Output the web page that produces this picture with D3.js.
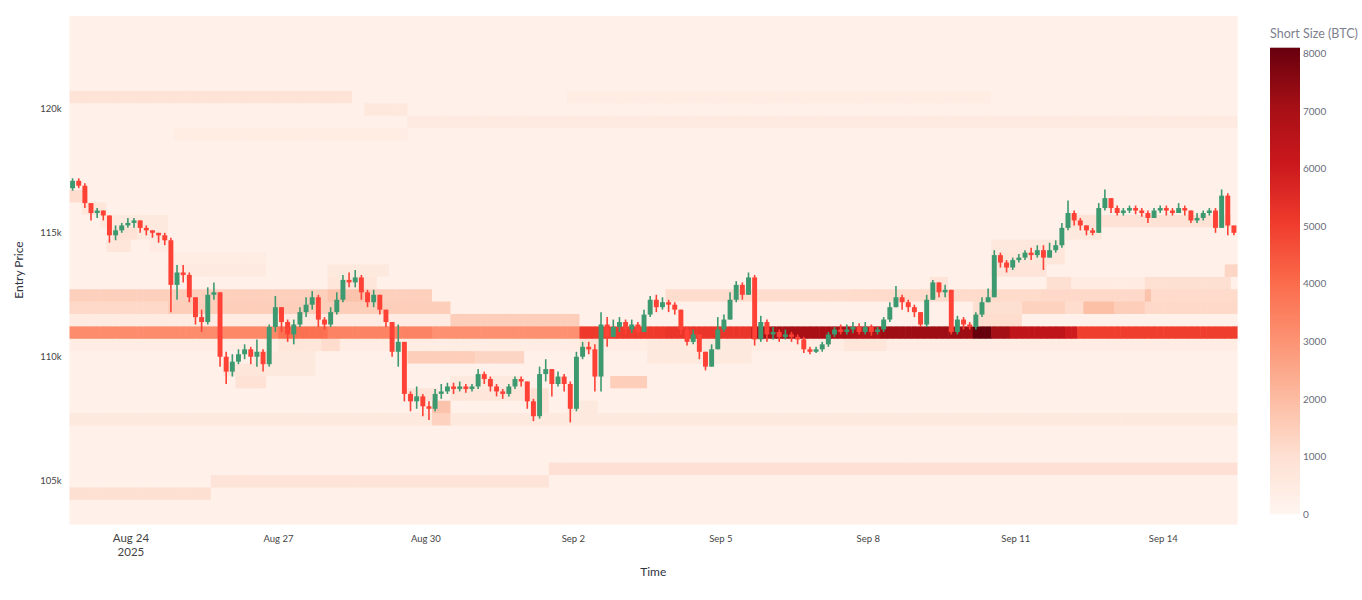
<!DOCTYPE html>
<html><head><meta charset="utf-8">
<script src="https://cdn.jsdelivr.net/npm/d3@7"></script>
<style>body{margin:0;background:#fff;} svg{display:block;font-family:Lato,"Noto Sans",sans-serif;}</style>
</head><body><svg id="chart" width="1362" height="600"></svg>
<script>
// ---------- DATA ----------
const gridStart = "2025-08-22T18:00:00Z";   // first 3-hour bar
const gridHours = 3;
const gridCount = 190;
const firstOpen = 116.8;                      // price in k USD
const closes = [117.1,116.9,116.2,115.8,115.9,115.7,114.9,115.1,115.3,115.4,
115.5,115.2,115.1,115.0,114.9,114.7,112.9,113.4,113.3,112.4,
111.6,111.4,112.5,112.6,110.0,109.4,109.8,110.1,110.3,110.0,
110.2,109.7,111.2,112.0,111.4,110.9,111.3,111.8,112.1,112.4,
111.5,111.3,111.8,112.3,113.1,113.0,113.2,112.6,112.2,112.5,
111.9,111.4,110.2,110.6,108.5,108.2,108.4,108.0,107.9,108.5,
108.6,108.8,108.7,108.8,108.7,108.8,109.3,109.1,108.8,108.6,
108.5,108.8,109.1,109.0,108.2,107.6,109.3,109.5,108.9,109.2,
108.9,107.9,110.0,110.4,110.3,109.2,111.3,110.8,111.2,111.4,
111.1,111.3,111.0,111.7,112.3,112.0,112.2,112.1,111.9,111.1,
110.6,110.9,110.2,109.6,110.3,111.1,111.5,112.3,112.9,112.5,
113.2,110.7,111.4,110.9,111.0,110.8,110.9,110.8,110.7,110.3,
110.2,110.3,110.5,110.9,111.1,111.0,111.1,111.2,111.0,111.2,
111.0,111.1,111.5,112.0,112.4,112.2,112.0,111.8,111.3,112.3,
113.0,112.6,112.7,111.0,111.5,111.3,111.2,111.7,112.2,112.4,
114.1,113.8,113.6,113.9,114.0,114.2,114.1,114.3,114.0,114.3,
114.5,115.2,115.8,115.5,115.3,115.1,115.0,116.0,116.4,116.0,
115.8,115.9,116.0,115.9,115.8,115.6,115.9,116.0,115.9,115.8,
116.0,115.9,115.5,115.6,115.8,115.9,115.2,116.5,115.3,115.0];
const highs = [117.2,117.2,117.0,116.1,116.0,115.9,115.7,115.3,115.4,115.6,
115.6,115.5,115.3,115.1,115.0,115.0,114.8,113.7,113.7,113.4,
112.4,111.9,112.8,113.0,112.6,110.2,110.1,110.3,110.5,110.4,
110.7,110.3,111.3,112.45,112.0,111.5,111.5,112.0,112.4,112.65,
112.5,111.6,112.0,112.6,113.3,113.4,113.5,113.3,112.7,112.7,
112.5,111.9,111.4,111.3,110.6,108.6,108.8,108.5,108.2,108.7,
108.9,108.95,108.95,109.0,108.9,108.9,109.5,109.4,109.2,108.9,
108.7,108.9,109.2,109.2,109.0,108.3,109.6,109.9,109.5,109.4,
109.3,109.0,110.2,110.6,110.6,110.5,111.8,111.6,111.5,111.6,
111.5,111.5,111.4,111.9,112.45,112.5,112.4,112.3,112.2,111.9,
111.2,111.1,110.9,110.2,110.5,111.6,111.7,112.6,113.05,113.0,
113.4,113.3,111.65,111.5,111.2,111.1,111.1,111.0,110.9,110.8,
110.4,110.4,110.6,111.0,111.2,111.3,111.3,111.4,111.35,111.4,
111.3,111.2,111.6,112.2,112.85,112.5,112.3,112.1,111.8,112.5,
113.1,113.0,112.9,112.7,111.65,111.6,111.4,111.8,112.4,112.75,
114.3,114.2,113.9,114.0,114.15,114.3,114.4,114.5,114.5,114.6,
114.7,115.4,116.3,115.9,115.6,115.3,115.2,116.2,116.75,116.4,
116.1,116.0,116.1,116.1,116.0,115.9,116.0,116.1,116.1,116.0,
116.2,116.1,115.9,115.8,115.9,116.0,116.0,116.75,116.6,115.2];
const lows = [116.7,116.8,116.0,115.5,115.6,115.5,114.6,114.7,115.0,115.2,
115.2,115.0,114.9,114.8,114.6,114.5,111.8,112.3,113.0,112.2,
111.3,111.0,111.3,112.3,109.6,108.9,109.2,109.7,109.9,109.7,
109.6,109.4,109.6,111.0,111.0,110.6,110.5,111.2,111.6,111.9,
111.2,111.1,111.2,111.7,112.2,112.8,112.8,112.3,112.0,112.0,
111.7,111.2,110.0,109.6,108.2,107.8,107.9,107.6,107.45,107.8,
108.3,108.5,108.5,108.6,108.55,108.6,108.7,108.9,108.6,108.4,
108.3,108.4,108.7,108.8,107.9,107.4,107.5,109.0,108.4,108.8,
108.6,107.35,107.8,109.9,110.1,108.6,108.6,110.4,110.8,111.0,
110.9,110.95,110.9,111.0,111.6,111.8,111.9,111.8,111.7,110.9,
110.45,110.5,109.9,109.45,109.6,110.3,111.0,111.5,112.2,112.3,
112.5,110.45,110.6,110.6,110.7,110.6,110.7,110.6,110.5,110.15,
110.1,110.15,110.2,110.4,110.8,110.9,110.9,110.95,110.9,110.9,
110.85,110.9,111.0,111.4,112.0,111.9,111.8,111.6,111.2,111.2,
112.3,112.4,112.4,110.9,110.9,111.1,111.1,111.1,111.6,112.2,
112.4,113.6,113.4,113.5,113.8,113.9,113.9,114.0,113.5,114.0,
114.2,114.4,115.1,115.3,115.1,114.9,114.9,115.0,115.9,115.8,
115.7,115.7,115.8,115.75,115.65,115.4,115.6,115.8,115.7,115.7,
115.8,115.7,115.4,115.4,115.5,115.7,115.0,115.2,114.9,114.9];

// heatmap: price levels (k USD, bin centres) and short size (BTC)
const priceLevels = [103.5,104,104.5,105,105.5,106,106.5,107,107.5,108,108.5,109,109.5,110,110.5,
111,111.5,112,112.5,113,113.5,114,114.5,115,115.5,116,116.5,117,117.5,118,118.5,119,119.5,120,120.5,
121,121.5,122,122.5,123,123.5];
const baseShort = 250;
// [price, [[fromBar, toBar, shortSize], ...]]
const heatRuns = [
 [120.5, [[0,46,850],[81,150,450]]],
 [120.0, [[48,55,650]]],
 [119.5, [[55,190,550]]],
 [119.0, [[17,55,450]]],
 [116.5, [[0,3,1100]]],
 [116.0, [[2,6,700]]],
 [115.5, [[5,16,600],[162,189,900]]],
 [115.0, [[7,11,900],[11,16,600],[162,168,600]]],
 [114.5, [[6,10,700],[13,16,500],[150,162,650]]],
 [114.0, [[16,32,450],[150,162,700]]],
 [113.5, [[16,32,550],[42,52,600],[150,159,800],[188,190,1300]]],
 [113.0, [[42,50,700],[140,143,800],[159,163,1000],[163,175,500],[175,189,1000]]],
 [112.5, [[0,42,1450],[42,48,1800],[48,59,1450],[97,127,1100],[127,158,1150],[158,175,1200],[175,176,1800],[176,190,1150]]],
 [112.0, [[0,16,1200],[16,62,1500],[147,155,1000],[155,162,1400],[162,165,1100],[165,170,1900],[170,175,1500],[175,190,1200]]],
 [111.5, [[0,62,500],[62,83,1500],[147,155,1100]]],
 [111.0, [[0,24,3200],[24,34,3300],[34,42,3900],[42,59,3400],[59,83,3100],[83,97,5100],[97,111,5200],[111,127,7000],[127,132,6800],[132,147,7200],[147,150,8100],[150,153,7100],[153,162,6400],[162,164,6000],[164,190,5000]]],
 [110.5, [[0,190,400],[34,44,700],[41,44,1100],[83,86,900],[94,111,600],[126,133,700]]],
 [110.0, [[30,40,600],[55,66,1500],[66,74,1300],[94,111,600]]],
 [109.5, [[25,32,700],[32,40,600]]],
 [109.0, [[27,32,900],[62,74,600],[88,94,1500]]],
 [108.5, [[55,60,800],[62,74,700],[75,78,1000]]],
 [108.0, [[59,62,1800],[75,78,800],[81,86,600]]],
 [107.5, [[0,190,600],[59,62,1400]]],
 [105.5, [[78,190,950]]],
 [105.0, [[23,78,800]]],
 [104.5, [[0,23,1000]]]
];
const xTickDates = ["2025-08-24","2025-08-27","2025-08-30","2025-09-02","2025-09-05","2025-09-08","2025-09-11","2025-09-14"];
const yTickValues = [105,110,115,120];
const colorTicks = [0,1000,2000,3000,4000,5000,6000,7000,8000];
const redsColors = ["rgb(255,245,240)","rgb(254,224,210)","rgb(252,187,161)","rgb(252,146,114)","rgb(251,106,74)","rgb(239,59,44)","rgb(203,24,29)","rgb(165,15,21)","rgb(103,0,13)"];

// ---------- BUILD ----------
const svg = d3.select("#chart");
const M = {left:69.5, right:1237, top:16, bottom:524};
const t0 = new Date(gridStart);
const step = gridHours*3600e3;
const times = d3.range(gridCount).map(i => new Date(+t0 + i*step));
const opens = closes.map((c,i) => i===0 ? firstOpen : closes[i-1]);   // continuous market: open = previous close

const x = d3.scaleUtc().domain([t0, new Date(+t0 + gridCount*step)]).range([M.left, M.right]);
const halfBin = 0.25;
const y = d3.scaleLinear().domain([d3.min(priceLevels)-halfBin, d3.max(priceLevels)+halfBin]).range([M.bottom, M.top]);

// matrix
const matrix = priceLevels.map(p => {
  const row = new Array(gridCount).fill(baseShort);
  const r = heatRuns.find(h => h[0]===p);
  if (r) r[1].forEach(([a,b,v]) => { for (let i=a;i<b;i++) row[i]=v; });
  return row;
});
const zMax = d3.max(matrix, r => d3.max(r));
const color = d3.scaleLinear().domain(redsColors.map((c,i)=>i/(redsColors.length-1)*zMax)).range(redsColors).clamp(true);

const heat = svg.append("g");
priceLevels.forEach((p,ri) => {
  matrix[ri].forEach((v,ci) => {
    const xa = x(times[ci]), xb = x(new Date(+times[ci]+step));
    heat.append("rect")
      .attr("x", xa).attr("width", xb-xa+0.6)
      .attr("y", y(p+halfBin)).attr("height", y(p-halfBin)-y(p+halfBin)+0.6)
      .attr("fill", color(v));
  });
});

// candles
const up = "#3D9970", down = "#FF4136";
const cg = svg.append("g");
const bw = (x(new Date(+t0+step)) - x(t0))*0.8;
closes.forEach((c,i) => {
  const o = opens[i];
  const cx = x(new Date(+times[i] + step/2));
  const col = c >= o ? up : down;
  cg.append("line").attr("x1",cx).attr("x2",cx).attr("y1",y(highs[i])).attr("y2",y(lows[i]))
    .attr("stroke",col).attr("stroke-width",1.6);
  const yt = y(Math.max(o,c)), yb = y(Math.min(o,c));
  cg.append("rect").attr("x",cx-bw/2).attr("width",bw).attr("y",yt).attr("height",Math.max(1.5,yb-yt))
    .attr("fill",col);
});

// axes
const fmtDay = d3.utcFormat("%b %-d");
xTickDates.forEach((d,i) => {
  const xx = x(new Date(d+"T00:00:00Z"));
  svg.append("text").attr("x",xx).attr("text-anchor","middle").attr("fill","#444")
    .style("font-size", i===0 ? "11.5px" : "9.5px").attr("y", 542).text(fmtDay(new Date(d+"T00:00:00Z")));
  if (i===0) svg.append("text").attr("x",xx).attr("y",556).attr("text-anchor","middle").attr("fill","#444").style("font-size","11.5px").text("2025");
});
const yg = svg.append("g").attr("transform",`translate(${M.left},0)`)
  .call(d3.axisLeft(y).tickValues(yTickValues).tickSize(0).tickPadding(8).tickFormat(d=>d+"k"));
yg.select(".domain").remove();
yg.selectAll("text").attr("fill","#444").style("font-size","9.5px").style("font-family","Lato,'Noto Sans',sans-serif");

svg.append("text").attr("x",(M.left+M.right)/2).attr("y",576).attr("text-anchor","middle")
  .attr("fill","#31333F").style("font-size","12px").text("Time");
svg.append("text").attr("transform",`translate(23,${(M.top+M.bottom)/2}) rotate(-90)`).attr("text-anchor","middle")
  .attr("fill","#31333F").style("font-size","12px").text("Entry Price");

// colorbar
const cb = d3.scaleLinear().domain([0,zMax]).range([514.3, 47.7]);
const defs = svg.append("defs");
const grad = defs.append("linearGradient").attr("id","cbgrad").attr("x1",0).attr("x2",0).attr("y1",1).attr("y2",0);
redsColors.forEach((c,i)=>grad.append("stop").attr("offset",i/(redsColors.length-1)).attr("stop-color",c));
svg.append("rect").attr("x",1270).attr("width",30).attr("y",cb(zMax)).attr("height",cb(0)-cb(zMax)).attr("fill","url(#cbgrad)");
colorTicks.forEach(v => {
  svg.append("text").attr("x",1303).attr("y",cb(v)+3.5).attr("fill","#6b6d7a").style("font-size","10px").text(v);
});
svg.append("text").attr("x",1270).attr("y",38).attr("fill","#7d7f8e").style("font-size","12.5px").text("Short Size (BTC)");
</script></body></html>
